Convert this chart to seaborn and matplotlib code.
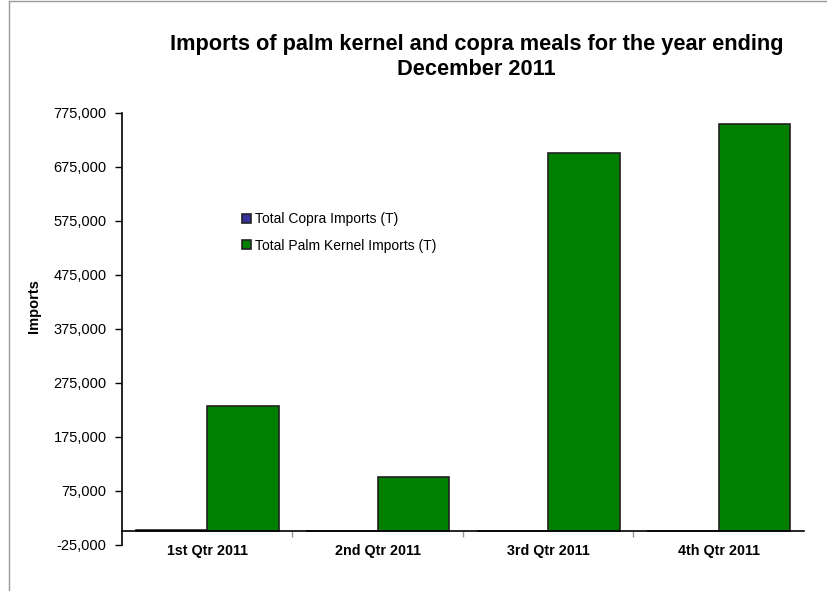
# Imports of palm kernel and copra meals - 2011 quarters
import pandas as pd
import numpy as np
import matplotlib
matplotlib.use('Agg')
import matplotlib.pyplot as plt
from matplotlib.ticker import FuncFormatter, FixedLocator
from matplotlib.lines import Line2D
import seaborn as sns

# ============================================
# Data
# ============================================
quarters = ['1st Qtr 2011', '2nd Qtr 2011', '3rd Qtr 2011', '4th Qtr 2011']
copra_imports = [3000, 1500, 1500, 1500]
palm_kernel_imports = [232000, 100500, 701000, 753500]
series_names = ['Total Copra Imports (T)', 'Total Palm Kernel Imports (T)']
series_colors = ['#333399', '#008000']
y_ticks = list(range(-25000, 775001, 100000))

df = pd.DataFrame({
    'Quarter': quarters * 2,
    'Series': [series_names[0]] * 4 + [series_names[1]] * 4,
    'Imports': copra_imports + palm_kernel_imports,
})

# ============================================
# Plot
# ============================================
sns.set_style("white")
plt.rcParams['font.family'] = ['Liberation Sans', 'DejaVu Sans']
plt.rcParams['text.color'] = 'black'
plt.rcParams['xtick.color'] = 'black'
plt.rcParams['ytick.color'] = 'black'
plt.rcParams['axes.labelcolor'] = 'black'

fig = plt.figure(figsize=(8.27, 5.91), dpi=100)
ax = fig.add_axes([0.1475, 0.078, 0.972 - 0.1475, 0.809 - 0.078])

sns.barplot(data=df, x='Quarter', y='Imports', hue='Series',
            palette=series_colors, width=0.84, gap=0,
            edgecolor='#222222', linewidth=1.2, saturation=1, ax=ax)

ax.set_xlim(-0.5, 3.5)
ax.set_ylim(-25000, 775000)
ax.set_yticks(y_ticks)
ax.yaxis.set_major_formatter(FuncFormatter(lambda v, p: f'{int(v):,}'))

# spines
sns.despine(ax=ax, top=True, right=True)
ax.spines['left'].set_color('black')
ax.spines['left'].set_linewidth(1.2)
ax.spines['bottom'].set_position(('data', 0))
ax.spines['bottom'].set_color('black')
ax.spines['bottom'].set_linewidth(1.2)

ax.tick_params(axis='y', which='major', direction='out', length=5,
               width=1, color='black', labelsize=10.5, pad=6, left=True)
ax.tick_params(axis='x', which='major', length=0, labelsize=10.3, pad=9)
for lbl in ax.get_xticklabels():
    lbl.set_fontweight('bold')
ax.xaxis.set_minor_locator(FixedLocator([0.5, 1.5, 2.5]))
ax.tick_params(axis='x', which='minor', direction='out', length=4,
               width=1, color='#999999', bottom=True)

ax.set_xlabel('')
ax.set_ylabel('Imports', fontsize=10.5, fontweight='bold')
ax.yaxis.set_label_coords(-0.119, 0.553)

# legend
handles, labels = ax.get_legend_handles_labels()
ax.legend(handles, labels, loc='upper left',
          bbox_to_anchor=(0.293, 0.641), bbox_transform=fig.transFigure,
          frameon=False, fontsize=10, handlelength=0.6, handleheight=0.6,
          handletextpad=0.3, labelspacing=0.9, borderpad=0, borderaxespad=0)

# title
fig.text(0.576, 0.943, 'Imports of palm kernel and copra meals for the year ending\nDecember 2011',
         ha='center', va='top', fontsize=15.7, fontweight='bold', linespacing=1.3)

# outer chart border (top and left edges visible)
fig.add_artist(Line2D([9 / 827, 9 / 827], [0, 0.999], transform=fig.transFigure,
                      color='#999999', linewidth=1))
fig.add_artist(Line2D([9 / 827, 1], [0.999, 0.999], transform=fig.transFigure,
                      color='#999999', linewidth=1))

fig.savefig('out.png', dpi=100)
